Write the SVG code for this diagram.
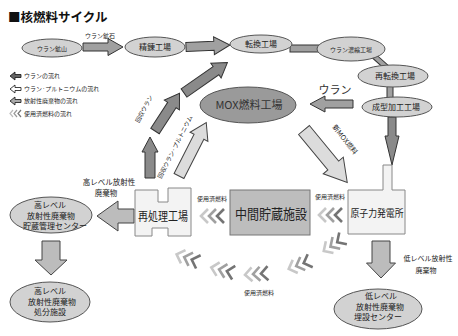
<svg xmlns="http://www.w3.org/2000/svg" width="458" height="336" viewBox="0 0 458 336">
<style>
text{font-family:"Noto Sans CJK JP","Noto Sans",sans-serif;fill:#222;text-anchor:middle}
.ell{fill:#d2d2d2;stroke:#555;stroke-width:1}
.mox{fill:#9a9a9a;stroke:#555;stroke-width:1}
.box{fill:#f3f3f3;stroke:#888;stroke-width:1}
.gbox{fill:#bdbdbd;stroke:#777;stroke-width:1}
.arr{fill:#a0a0a0;stroke:#333;stroke-width:1;stroke-linejoin:miter}
.darr{fill:#8a8a8a;stroke:#333;stroke-width:1}
.larr{fill:#dcdcdc;stroke:#444;stroke-width:1}
.warr{fill:#bcbcbc;stroke:#444;stroke-width:1}
.s6{font-size:6px}
.s7{font-size:7px}
.s8{font-size:8px}
.lg{font-size:6px;text-anchor:start}
.c1{fill:none;stroke:#c8c8c8;stroke-width:2.6}
.c2{fill:none;stroke:#a0a0a0;stroke-width:2.6}
.c3{fill:none;stroke:#747474;stroke-width:2.6}
</style>
<defs>
<g id="chev3">
<polyline class="c1" points="-4,-7 -11,0 -4,7"/>
<polyline class="c2" points="4,-7 -3,0 4,7"/>
<polyline class="c3" points="12,-7 5,0 12,7"/>
</g>
</defs>
<rect width="458" height="336" fill="#fff"/>

<text x="8" y="22" style="font-size:12.5px;text-anchor:start;fill:#111;font-weight:bold">■核燃料サイクル</text>

<g id="legend">
<path d="M10,76 L15,72 V74.5 H21 V77.5 H15 V80 Z" fill="#666" stroke="#111" stroke-width="0.8"/>
<text class="lg" x="24" y="78">ウランの流れ</text>
<path d="M10,89 L15,85 V87.5 H21 V90.5 H15 V93 Z" fill="#fff" stroke="#111" stroke-width="0.8"/>
<text class="lg" x="24" y="91">ウラン·プルトニウムの流れ</text>
<path d="M10,101 L15,97 V99.5 H21 V102.5 H15 V105 Z" fill="#aaa" stroke="#111" stroke-width="0.8"/>
<text class="lg" x="24" y="103">放射性廃棄物の流れ</text>
<polyline points="13,110 10,113.5 13,117" fill="none" stroke="#bbb" stroke-width="1.2"/>
<polyline points="17,110 14,113.5 17,117" fill="none" stroke="#999" stroke-width="1.2"/>
<polyline points="21,110 18,113.5 21,117" fill="none" stroke="#777" stroke-width="1.2"/>
<text class="lg" x="24" y="116">使用済燃料の流れ</text>
</g>

<g id="connectors">
<path class="arr" transform="translate(83,47)" d="M0,-4H25V-8.5L40,0L25,8.5V4H0Z"/>
<text class="s6" x="100" y="38">ウラン鉱石</text>
<path class="arr" transform="translate(186,47) rotate(-2.6)" d="M0,-4.5H28V-9L44,0L28,9V4.5H0Z"/>
<rect class="arr" x="290" y="45" width="30" height="7"/>
<rect class="arr" transform="translate(374,56) rotate(42)" x="0" y="-2.5" width="20" height="5"/>
<rect class="arr" x="387" y="85" width="6" height="14"/>
<path class="darr" d="M388,117 H396 V136 H399 L392,165 L385,136 H388 Z"/>
<path class="arr" transform="translate(353,104) rotate(180)" d="M0,-4H28V-8L43,0L28,8V4H0Z"/>
<text x="335" y="94" style="font-size:11px;fill:#333">ウラン</text>
<path class="darr" transform="translate(150,178) rotate(-90)" d="M0,-5H26V-8L41,0L26,8V5H0Z"/>
<path class="darr" transform="translate(155,131) rotate(-57)" d="M0,-5H31V-9L45,0L31,9V5H0Z"/>
<path class="darr" transform="translate(184,93) rotate(-35)" d="M0,-5H39V-9L53,0L39,9V5H0Z"/>
<text class="s6" transform="translate(146,110) rotate(-62)">回収ウラン</text>
<path class="larr" transform="translate(179,176) rotate(-63)" d="M0,-5.5H44V-10L60,0L44,10V5.5H0Z"/>
<text class="s6" transform="translate(177,148) rotate(-63)">回収ウラン·プルトニウム</text>
<path class="larr" transform="translate(304,130) rotate(50.5)" d="M0,-7H46V-13L68,0L46,13V7H0Z"/>
<text class="s7" transform="translate(343,141) rotate(52)">新MOX燃料</text>
<path class="warr" transform="translate(134,216) rotate(180)" d="M0,-7H16V-15L37,0L16,15V7H0Z"/>
<text x="109" y="185" style="font-size:7.5px">高レベル放射性</text>
<text x="106" y="195.5" style="font-size:7.5px">廃棄物</text>
<path class="warr" transform="translate(51,241) rotate(90)" d="M0,-9H19V-16L34,0L19,16V9H0Z"/>
<path class="warr" transform="translate(381,241) rotate(90)" d="M0,-9H22V-14.5L37,0L22,14.5V9H0Z"/>
<text class="s7" x="428" y="261">低レベル放射性</text>
<text class="s7" x="426" y="273">廃棄物</text>
<text class="s6" x="212" y="201">使用済燃料</text>
<use href="#chev3" transform="translate(212,216)"/>
<text class="s6" x="330" y="199">使用済燃料</text>
<use href="#chev3" transform="translate(330,215)"/>
<use href="#chev3" transform="translate(187,258) rotate(19)"/>
<use href="#chev3" transform="translate(222,270) rotate(13)"/>
<use href="#chev3" transform="translate(256,274) rotate(-4)"/>
<use href="#chev3" transform="translate(299,265) rotate(-21)"/>
<use href="#chev3" transform="translate(333,245) rotate(-33)"/>
<text class="s6" x="259" y="295">使用済燃料</text>
</g>

<g id="uranium-mine">
<ellipse class="ell" cx="52" cy="48" rx="30" ry="9"/>
<text class="s6" x="52" y="50.5">ウラン鉱山</text>
</g>
<g id="refinery">
<ellipse class="ell" cx="155" cy="47" rx="30" ry="10"/>
<text class="s8" x="155" y="50">精錬工場</text>
</g>
<g id="conversion">
<ellipse class="ell" cx="261" cy="44" rx="31" ry="9"/>
<text class="s8" x="261" y="47">転換工場</text>
</g>
<g id="enrichment">
<ellipse class="ell" cx="351" cy="49" rx="34" ry="12"/>
<text class="s6" x="351" y="51.5">ウラン濃縮工場</text>
</g>
<g id="reconversion">
<ellipse class="ell" cx="393" cy="76" rx="35" ry="11"/>
<text class="s8" x="395" y="79">再転換工場</text>
</g>
<g id="fabrication">
<ellipse class="ell" cx="397" cy="107" rx="35" ry="10"/>
<text class="s8" x="396" y="110">成型加工工場</text>
</g>
<g id="mox-plant">
<ellipse class="mox" cx="248" cy="105" rx="48" ry="18"/>
<text x="249" y="109" style="font-size:11px;fill:#333">MOX燃料工場</text>
</g>
<g id="reprocessing">
<path class="box" d="M135,190 H158 V202 H168 V188 H191 V236 H168 V228 H152 V236 H135 Z"/>
<text x="163" y="221" style="font-size:12px" textLength="50" lengthAdjust="spacingAndGlyphs">再処理工場</text>
</g>
<g id="interim-storage">
<rect class="gbox" x="230" y="190" width="80" height="45"/>
<text x="271" y="219" style="font-size:14px;fill:#222" textLength="72" lengthAdjust="spacingAndGlyphs">中間貯蔵施設</text>
</g>
<g id="power-plant">
<path class="box" d="M348,190 H383 V165 H392 V190 H405 V234 H348 Z"/>
<text x="377" y="217" style="font-size:10px" textLength="53" lengthAdjust="spacingAndGlyphs">原子力発電所</text>
</g>
<g id="hlw-storage">
<ellipse class="ell" cx="51" cy="215" rx="41" ry="18"/>
<text class="s8" x="50" y="208">高レベル</text>
<text class="s8" x="51" y="219">放射性廃棄物</text>
<text class="s8" x="55" y="229">貯蔵管理センター</text>
</g>
<g id="hlw-disposal">
<ellipse class="ell" cx="50" cy="302" rx="40" ry="20"/>
<text class="s8" x="50" y="294">高レベル</text>
<text class="s8" x="52" y="305">放射性廃棄物</text>
<text class="s8" x="50" y="315">処分施設</text>
</g>
<g id="llw-center">
<ellipse class="ell" cx="378" cy="309" rx="44" ry="20"/>
<text x="381" y="299" style="font-size:8px">低レベル</text>
<text x="380" y="309.5" style="font-size:8px">放射性廃棄物</text>
<text x="378" y="320" style="font-size:8px">埋設センター</text>
</g>
</svg>
